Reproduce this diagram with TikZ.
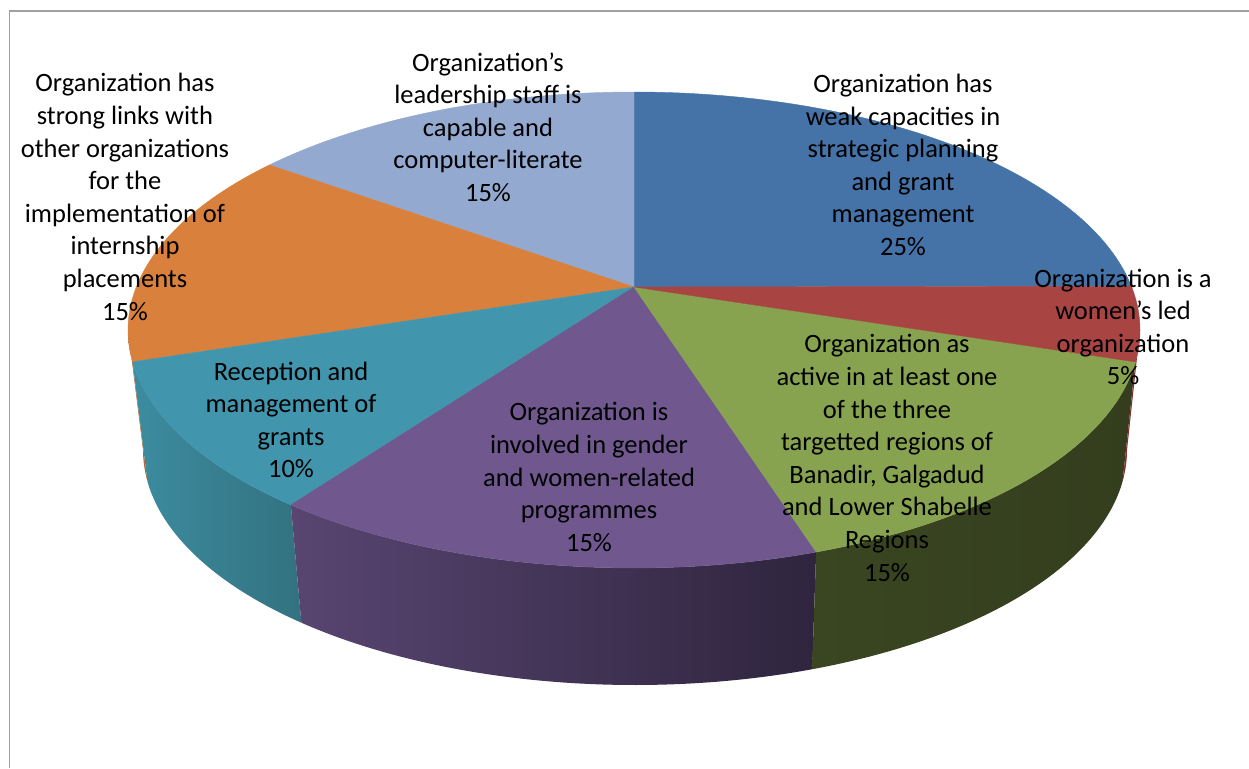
\documentclass[tikz,border=0pt]{standalone}
\usepackage{fontspec}
\setmainfont{Carlito}
\definecolor{cBlue}{RGB}{69,114,167}
\definecolor{cRed}{RGB}{168,69,67}
\definecolor{cGreen}{RGB}{135,163,79}
\definecolor{cPurple}{RGB}{112,88,143}
\definecolor{cTeal}{RGB}{65,150,173}
\definecolor{cOrange}{RGB}{217,128,60}
\definecolor{cLight}{RGB}{147,169,207}
\definecolor{sTealL}{RGB}{60,140,160}
\definecolor{sTealR}{RGB}{51,114,128}
\definecolor{sPurpleL}{RGB}{88,69,113}
\definecolor{sPurpleR}{RGB}{47,37,62}
\definecolor{sGreenL}{RGB}{58,69,33}
\definecolor{sGreenR}{RGB}{52,62,30}
\definecolor{sOrange}{RGB}{184,106,46}
\definecolor{sRed}{RGB}{130,50,48}
\definecolor{frameGray}{RGB}{160,160,160}
\newcommand\pieTop[3]{\fill[#3,draw=#3,line width=0.4pt] (C) -- plot[domain=#1:#2,samples=80] ({634+506*cos(\x)},{330-238*sin(\x)}) -- cycle;}
\newcommand\pieSide[4]{\shade[left color=#3,right color=#4] plot[domain=#1:#2,samples=80] ({634+506*cos(\x)},{330-238*sin(\x)}) -- plot[domain=#2:#1,samples=80] ({635+492*cos(\x)},{450-235*sin(\x)}) -- cycle;}
\begin{document}
\begin{tikzpicture}[x=1pt,y=-1pt,
  lbl/.style={align=center,font=\fontsize{26.5}{32.6}\selectfont,text=black,inner sep=0pt},
  frame/.style={draw=frameGray,line width=1.8pt}]
\useasboundingbox (0,0) rectangle (1249,768);
\fill[white] (0,0) rectangle (1249,768);
\coordinate (fa) at (9.5,768);
\coordinate (fb) at (9.5,11);
\coordinate (fc) at (1249,11);
\draw[frame] (fa) -- (fb) -- (fc);
\coordinate (C) at (634,287);
% side faces
\pieSide{180}{187.7}{sOrange}{sOrange}
\pieSide{187.7}{227.3}{sTealL}{sTealR}
\pieSide{227.3}{291.1}{sPurpleL}{sPurpleR}
\pieSide{291.1}{352.3}{sGreenL}{sGreenR}
\pieSide{352.3}{360}{sRed}{sRed}
% top faces
\pieTop{10.6}{90}{cBlue}
\pieTop{90}{136.1}{cLight}
\pieTop{136.1}{187.7}{cOrange}
\pieTop{187.7}{227.3}{cTeal}
\pieTop{227.3}{291.1}{cPurple}
\pieTop{291.1}{352.3}{cGreen}
\pieTop{352.3}{370.6}{cRed}
% labels
\node[lbl] (lBlue) at (903,165) {Organization has\\weak capacities in\\strategic planning\\and grant\\management\\25\%};
\node[lbl] (lRed) at (1123,327) {Organization is a\\women’s led\\organization\\5\%};
\node[lbl] (lGreen) at (887,458) {Organization as\\active in at least one\\of the three\\targetted regions of\\Banadir, Galgadud\\and Lower Shabelle\\Regions\\15\%};
\node[lbl] (lPurple) at (589,477) {Organization is\\involved in gender\\and women-related\\programmes\\15\%};
\node[lbl] (lTeal) at (291,420) {Reception and\\management of\\grants\\10\%};
\node[lbl] (lOrange) at (125,197) {Organization has\\strong links with\\other organizations\\for the\\implementation of\\internship\\placements\\15\%};
\node[lbl] (lLight) at (488,127) {Organization’s\\leadership staff is\\capable and\\computer-literate\\15\%};
\end{tikzpicture}
\end{document}
